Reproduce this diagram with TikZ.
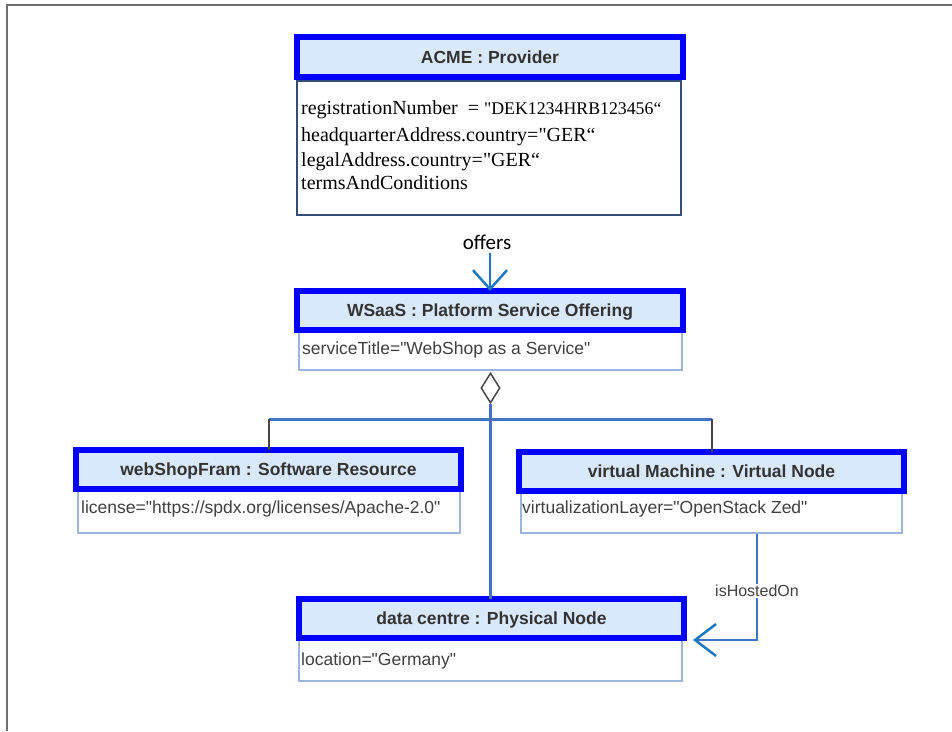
\documentclass[tikz,border=0pt]{standalone}
\usepackage{fontspec}
\setmainfont{Liberation Serif}[Ligatures=TeXOff]
\setsansfont{Liberation Sans}[Ligatures=TeXOff]
\newfontfamily\labelfont{Carlito}[Ligatures=TeXOff]
\usetikzlibrary{arrows.meta,shapes.geometric}
\definecolor{hdrblue}{RGB}{0,0,255}
\definecolor{hdrfill}{RGB}{218,232,252}
\definecolor{bodyline}{RGB}{158,180,218}
\definecolor{acmeline}{RGB}{52,78,120}
\definecolor{connblue}{RGB}{68,114,196}
\definecolor{tipblue}{RGB}{30,120,196}
\definecolor{txtgray}{RGB}{51,51,51}
\definecolor{attrgray}{RGB}{64,64,64}
\definecolor{framegray}{RGB}{110,110,110}
\definecolor{stemgray}{RGB}{70,70,70}
\begin{document}
\begin{tikzpicture}[x=1pt,y=-1pt,
  hdr/.style={draw=hdrblue, line width=6pt, fill=hdrfill, minimum width=385pt,
    minimum height=39pt, inner sep=0pt,
    font=\sffamily\bfseries\fontsize{17.5}{19}\selectfont, text=txtgray,
    text height=12.5pt, text depth=0pt},
  objbody/.style={draw=bodyline, line width=1.5pt, fill=white, inner sep=0pt},
  attr/.style={anchor=base west, inner sep=0pt,
    font=\sffamily\fontsize{17.5}{19}\selectfont, text=attrgray},
  serifattr/.style={anchor=base west, inner sep=0pt,
    font=\fontsize{20}{22}\selectfont, text=black},
  assoc/.style={draw=tipblue, line width=2.5pt,
    -{Straight Barb[length=19pt,width=34pt,line width=2.5pt]}},
  bluelink/.style={draw=connblue, line width=3pt},
  greylink/.style={draw=stemgray, line width=2pt}
]
% page area and frame
\useasboundingbox (0,0) rectangle (952,731);
\draw[framegray, line width=1.3pt] (7,731) -- (7,5) -- (952,5);

% ACME : Provider
\node[objbody, draw=acmeline, line width=2.5pt, minimum width=384pt, minimum height=134pt] (acmeb) at (489,148) {};
\node[hdr, minimum width=386pt, minimum height=40pt] (acmeh) at (490,57) {ACME : Provider};
\node[serifattr] (acl1) at (301,114) {registrationNumber\ \ = {\fontsize{17.8}{20}\selectfont"DEK1234HRB123456“}};
\node[serifattr] (acl2) at (301,141) {headquarterAddress.country="GER“};
\node[serifattr] (acl3) at (301,166) {legalAddress.country="GER“};
\node[serifattr] (acl4) at (301,189) {termsAndConditions};

% WSaaS : Platform Service Offering
\node[objbody, minimum width=383pt, minimum height=39pt] (wsb) at (490.5,350.5) {};
\node[hdr, minimum width=386pt] (wsh) at (490,310.5) {WSaaS : Platform Service Offering};
\node[attr] (wsa) at (302,354) {serviceTitle="WebShop as a Service"};

% webShopFram : Software Resource
\node[objbody, minimum width=382pt, minimum height=43pt] (webb) at (269,511.5) {};
\node[hdr] (webh) at (268.5,469.5) {webShopFram : Software Resource};
\node[attr] (weba) at (81,513) {license="https://spdx.org/licenses/Apache-2.0"};

% virtual Machine : Virtual Node
\node[objbody, minimum width=381pt, minimum height=41pt] (vmb) at (711.5,512.5) {};
\node[hdr] (vmh) at (711.5,471.5) {virtual Machine : Virtual Node};
\node[attr] (vma) at (522,513) {virtualizationLayer="OpenStack Zed"};

% data centre : Physical Node
\node[objbody, minimum width=383pt, minimum height=42pt] (dcb) at (490.5,660) {};
\node[hdr] (dch) at (491.5,618.5) {data centre : Physical Node};
\node[attr] (dca) at (301,665) {location="Germany"};

% offers association
\node[font=\labelfont\fontsize{21}{23}\selectfont, inner sep=3pt] (offers) at (487,242) {offers};
\draw[assoc] (offers.south -| wsh.north) -- ([yshift=-3pt]wsh.north);

% aggregation of the parts into the offering
\node[diamond, draw=stemgray, line width=1.5pt, fill=white, inner sep=0pt,
      minimum width=19pt, minimum height=30pt, shape aspect=0.63] (agg) at (490.5,388) {};
\coordinate (junc) at (490.5,419);
\coordinate (jl) at (webh.north |- junc);
\coordinate (jr) at (vmh.north |- junc);
\draw[bluelink] (jl) -- (jr);
\draw[bluelink] (agg.south) -- ([yshift=-3pt]dch.north -| agg.south);
\draw[greylink] (jl) -- ([yshift=-3pt]webh.north);
\draw[greylink] (jr) -- ([yshift=-3pt]vmh.north);

% isHostedOn association
\coordinate (hx) at (757,0);
\draw[draw=connblue, line width=2.5pt,
      -{Straight Barb[length=21pt,width=32pt,line width=2.5pt,color=tipblue]}]
  (hx |- vmb.south) |- ([xshift=6pt,yshift=1pt]dch.south east);
\node[fill=white, inner sep=1pt, font=\sffamily\fontsize{16}{18}\selectfont, text=attrgray] (hosted) at (757,591) {isHostedOn};
\end{tikzpicture}
\end{document}
